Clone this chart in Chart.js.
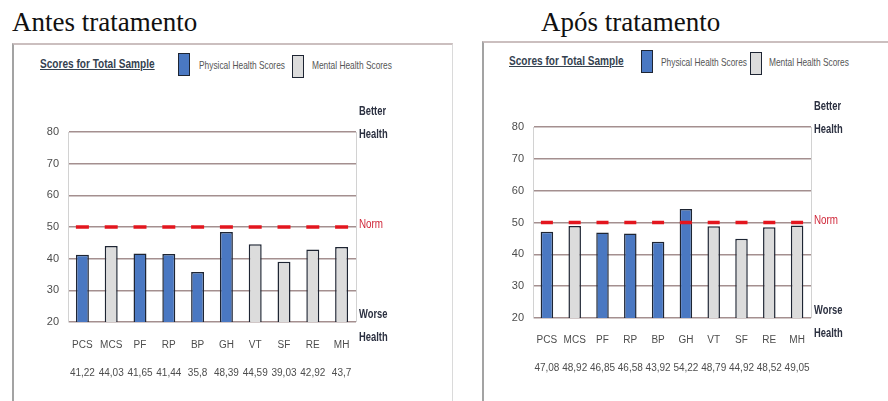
<!DOCTYPE html>
<html>
<head>
<meta charset="utf-8">
<script src="https://cdn.jsdelivr.net/npm/chart.js@4.4.1/dist/chart.umd.min.js"></script>
<style>
  body { margin: 0; width: 888px; height: 401px; background: #fff; position: relative; overflow: hidden; }
  .pageTitle { position: absolute; top: 9px; font: 27px/27px 'Liberation Serif', 'Times New Roman', serif; color: #111; white-space: nowrap; }
  .box { position: absolute; border-left: 2px solid #a3a3a3; border-top: 2px solid #cbbfbf; height: 420px; }
  .heading { position: absolute; font: bold 12px/14px 'Liberation Sans', Arial, sans-serif; color: #34414f; text-decoration: underline; white-space: nowrap; transform: scaleX(0.84); transform-origin: left center; }
  .swatch { position: absolute; width: 10px; height: 21px; border: 1.5px solid #1e2533; }
  .legendText { position: absolute; font: 11px/12px 'Liberation Sans', Arial, sans-serif; color: #555; white-space: nowrap; transform: scaleX(0.76); transform-origin: left center; }
  canvas { position: absolute; }
</style>
</head>
<body>
<div class="pageTitle" style="left:12px">Antes tratamento</div>
<div class="pageTitle" style="left:541px">Após tratamento</div>

<div class="box" style="left:12px; top:43px; width:438px; border-right:1px solid #dadada"></div>
<div class="box" style="left:482px; top:41px; width:420px"></div>

<div class="heading" style="left:40px; top:57px">Scores for Total Sample</div>
<div class="swatch" style="left:178px; top:53px; background:#4a78c2"></div>
<div class="legendText" style="left:199px; top:59px">Physical Health Scores</div>
<div class="swatch" style="left:292px; top:55px; background:#dcdcdc"></div>
<div class="legendText" style="left:312px; top:59px">Mental Health Scores</div>

<div class="heading" style="left:509px; top:54px">Scores for Total Sample</div>
<div class="swatch" style="left:641px; top:50px; background:#4a78c2"></div>
<div class="legendText" style="left:661px; top:56px">Physical Health Scores</div>
<div class="swatch" style="left:750px; top:52px; background:#dcdcdc"></div>
<div class="legendText" style="left:769px; top:56px">Mental Health Scores</div>

<canvas id="beforeChart" width="430" height="354" style="left:14px; top:46px"></canvas>
<canvas id="afterChart" width="400" height="356" style="left:485px; top:44px"></canvas>

<script>
const categories = ['PCS', 'MCS', 'PF', 'RP', 'BP', 'GH', 'VT', 'SF', 'RE', 'MH'];
const scoreType = ['physical', 'mental', 'physical', 'physical', 'physical', 'physical', 'mental', 'mental', 'mental', 'mental'];
const beforeValues = [41.22, 44.03, 41.65, 41.44, 35.8, 48.39, 44.59, 39.03, 42.92, 43.7];
const afterValues = [47.08, 48.92, 46.85, 46.58, 43.92, 54.22, 48.79, 44.92, 48.52, 49.05];
const normValue = 50;
const yMin = 20, yMax = 80, yStep = 10;

const BLUE = '#4a78c2';
const GREY = '#dcdcdc';
const SANS = "'Liberation Sans', Arial, sans-serif";

// comma decimals like the original report
const fmt = v => String(v).replace('.', ',');

// squeezed text, the original uses a narrow font
function narrowText(ctx, text, x, y, sx) {
    ctx.save();
    ctx.translate(x, y);
    ctx.scale(sx, 1);
    ctx.fillText(text, 0, 0);
    ctx.restore();
}

// Better/Worse Health + Norm notes on the right, and the plot's right border
const sideNotes = {
    id: 'sideNotes',
    afterDraw(chart) {
        const { ctx, chartArea: a, scales: { y } } = chart;
        ctx.save();
        ctx.strokeStyle = '#d2d2d2';
        ctx.lineWidth = 1;
        ctx.beginPath();
        ctx.moveTo(a.right + 0.5, a.top);
        ctx.lineTo(a.right + 0.5, a.bottom);
        ctx.stroke();

        const x = a.right + 3;
        ctx.textAlign = 'left';
        ctx.textBaseline = 'middle';
        ctx.font = 'bold 12px ' + SANS;
        ctx.fillStyle = '#2b3040';
        narrowText(ctx, 'Better', x, a.top - 20, 0.78);
        narrowText(ctx, 'Health', x, a.top + 3, 0.78);
        narrowText(ctx, 'Worse', x, a.bottom - 7, 0.78);
        narrowText(ctx, 'Health', x, a.bottom + 16, 0.78);
        ctx.font = '12px ' + SANS;
        ctx.fillStyle = '#d0283a';
        narrowText(ctx, 'Norm', x, y.getPixelForValue(normValue) - 2, 0.82);
        ctx.restore();
    }
};

function makeChart(id, values, pad, dashRadius, tickPad) {
    const ctx = document.getElementById(id).getContext('2d');
    return new Chart(ctx, {
        type: 'bar',
        data: {
            labels: categories.map((c, i) => [c, '', fmt(values[i])]),
            datasets: [{
                type: 'line',
                label: 'Norm',
                data: categories.map(() => normValue),
                showLine: false,
                pointStyle: 'line',
                pointRadius: dashRadius,
                pointBorderWidth: 3.5,
                pointBorderColor: '#e3161e',
                order: 0
            }, {
                label: 'Scores',
                data: values,
                backgroundColor: scoreType.map(t => t === 'physical' ? BLUE : GREY),
                borderColor: '#1e2533',
                borderWidth: 1.5,
                categoryPercentage: 1,
                barPercentage: 0.45,
                order: 1
            }]
        },
        options: {
            responsive: false,
            animation: false,
            layout: { padding: pad },
            plugins: { legend: { display: false }, tooltip: { enabled: false } },
            scales: {
                x: {
                    grid: { display: false, drawTicks: false },
                    border: { display: false },
                    ticks: { color: '#4d4d4d', font: { family: SANS, size: 10, lineHeight: 1.4 }, padding: tickPad, maxRotation: 0, autoSkip: false },
                    afterFit(scale) { scale.height = 60; }
                },
                y: {
                    min: yMin,
                    max: yMax,
                    grid: { color: '#a48f8f', lineWidth: 1.5, drawTicks: false },
                    border: { color: '#d2d2d2', width: 1 },
                    ticks: { stepSize: yStep, color: '#4d4d4d', font: { family: SANS, size: 11 }, padding: 9 },
                    afterFit(scale) { scale.width = 34; }
                }
            }
        },
        plugins: [sideNotes]
    });
}

makeChart('beforeChart', beforeValues, { left: 20, right: 88, top: 86, bottom: 18 }, 6.5, 16);
makeChart('afterChart', afterValues, { left: 14, right: 74, top: 83, bottom: 22 }, 6, 15);
</script>
</body>
</html>
